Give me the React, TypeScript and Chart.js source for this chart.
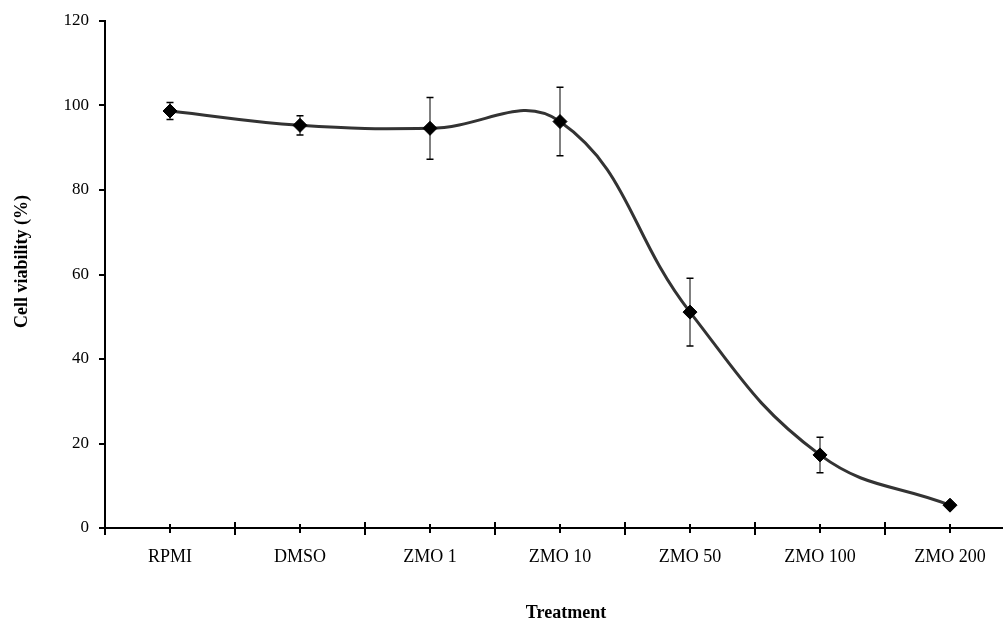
import React, { useEffect, useRef } from "react";
import { Chart, registerables } from "chart.js";

Chart.register(...registerables);

const categories = ["RPMI", "DMSO", "ZMO 1", "ZMO 10", "ZMO 50", "ZMO 100", "ZMO 200"];
const viability = [98.7, 95.3, 94.6, 96.2, 51.1, 17.3, 5.4];
const errors = [2.0, 2.3, 7.3, 8.1, 8.0, 4.2, 0.3];
const yTicks = [0, 20, 40, 60, 80, 100, 120];
const yTitle = "Cell viability (%)";
const xTitle = "Treatment";

const FONT = '"Liberation Serif", "Times New Roman", serif';

const errorBarPlugin = {
  id: "errorBars",
  beforeDatasetsDraw(chart: any) {
    const { ctx, scales } = chart;
    const xs = scales.x;
    const ys = scales.y;
    ctx.save();
    viability.forEach((v, i) => {
      const e = errors[i];
      const x = xs.getPixelForValue(i);
      const yT = ys.getPixelForValue(v + e);
      const yB = ys.getPixelForValue(v - e);
      ctx.strokeStyle = "#808080";
      ctx.lineWidth = 2;
      ctx.beginPath();
      ctx.moveTo(x, yT);
      ctx.lineTo(x, yB);
      ctx.stroke();
      ctx.strokeStyle = "#000";
      ctx.lineWidth = 1.5;
      ctx.beginPath();
      ctx.moveTo(x - 3.5, yT);
      ctx.lineTo(x + 3.5, yT);
      ctx.moveTo(x - 3.5, yB);
      ctx.lineTo(x + 3.5, yB);
      ctx.stroke();
    });
    ctx.restore();
  },
};

const axisDecorPlugin = {
  id: "axisDecor",
  afterDraw(chart: any) {
    const { ctx, scales, chartArea } = chart;
    const xs = scales.x;
    const bottom = chartArea.bottom;
    ctx.save();
    ctx.strokeStyle = "#000";
    ctx.lineWidth = 2;
    const n = categories.length;
    ctx.beginPath();
    for (let i = 0; i <= n; i++) {
      const xb = xs.getPixelForValue(i - 0.5);
      ctx.moveTo(xb, bottom - 6);
      ctx.lineTo(xb, bottom);
    }
    for (let i = 0; i < n; i++) {
      const xc = xs.getPixelForValue(i);
      ctx.moveTo(xc, bottom - 4);
      ctx.lineTo(xc, bottom + 5);
    }
    ctx.stroke();

    ctx.fillStyle = "#000";
    ctx.font = `bold 18px ${FONT}`;
    ctx.textAlign = "center";
    ctx.textBaseline = "middle";
    ctx.fillText(xTitle, 566, 613);
    ctx.translate(22, (chartArea.top + chartArea.bottom) / 2 - 13);
    ctx.rotate(-Math.PI / 2);
    ctx.fillText(yTitle, 0, 0);
    ctx.restore();
  },
};

export default function App() {
  const canvasRef = useRef<HTMLCanvasElement | null>(null);

  useEffect(() => {
    const canvas = canvasRef.current;
    if (!canvas) return;
    const chart = new Chart(canvas, {
      type: "line",
      data: {
        labels: categories,
        datasets: [
          {
            data: viability,
            borderColor: "#333333",
            borderWidth: 3,
            tension: 0.42,
            pointStyle: "rectRot",
            pointRadius: 7,
            pointBackgroundColor: "#000",
            pointBorderColor: "#000",
            pointBorderWidth: 1,
            fill: false,
          },
        ],
      },
      options: {
        responsive: false,
        animation: false,
        layout: { padding: { top: 21, right: 0, left: 0, bottom: 0 } },
        plugins: {
          legend: { display: false },
          tooltip: { enabled: false },
        },
        scales: {
          x: {
            type: "category",
            offset: true,
            grid: {
              display: true,
              drawOnChartArea: false,
              offset: true,
              tickLength: 7,
              lineWidth: 2,
              color: "#000",
            },
            border: { display: true, color: "#000", width: 2 },
            ticks: {
              color: "#000",
              font: { family: FONT, size: 18 },
              padding: 11,
              maxRotation: 0,
              autoSkip: false,
            },
            afterFit(scale: any) {
              scale.height = 93;
            },
          },
          y: {
            min: 0,
            max: 120,
            afterBuildTicks(scale: any) {
              scale.ticks = yTicks.map((v) => ({ value: v }));
            },
            grid: {
              display: true,
              drawOnChartArea: false,
              tickLength: 6,
              lineWidth: 2,
              color: "#000",
            },
            border: { display: true, color: "#000", width: 2 },
            ticks: {
              color: "#000",
              font: { family: FONT, size: 17 },
              padding: 10,
            },
            afterFit(scale: any) {
              scale.width = 105;
            },
          },
        },
      },
      plugins: [errorBarPlugin, axisDecorPlugin],
    });
    return () => chart.destroy();
  }, []);

  return (
    <div
      style={{
        position: "absolute",
        left: 0,
        top: 0,
        width: 1003,
        height: 621,
        overflow: "hidden",
        background: "#fff",
      }}
    >
      <canvas ref={canvasRef} width={1023} height={621} style={{ display: "block" }} />
    </div>
  );
}
